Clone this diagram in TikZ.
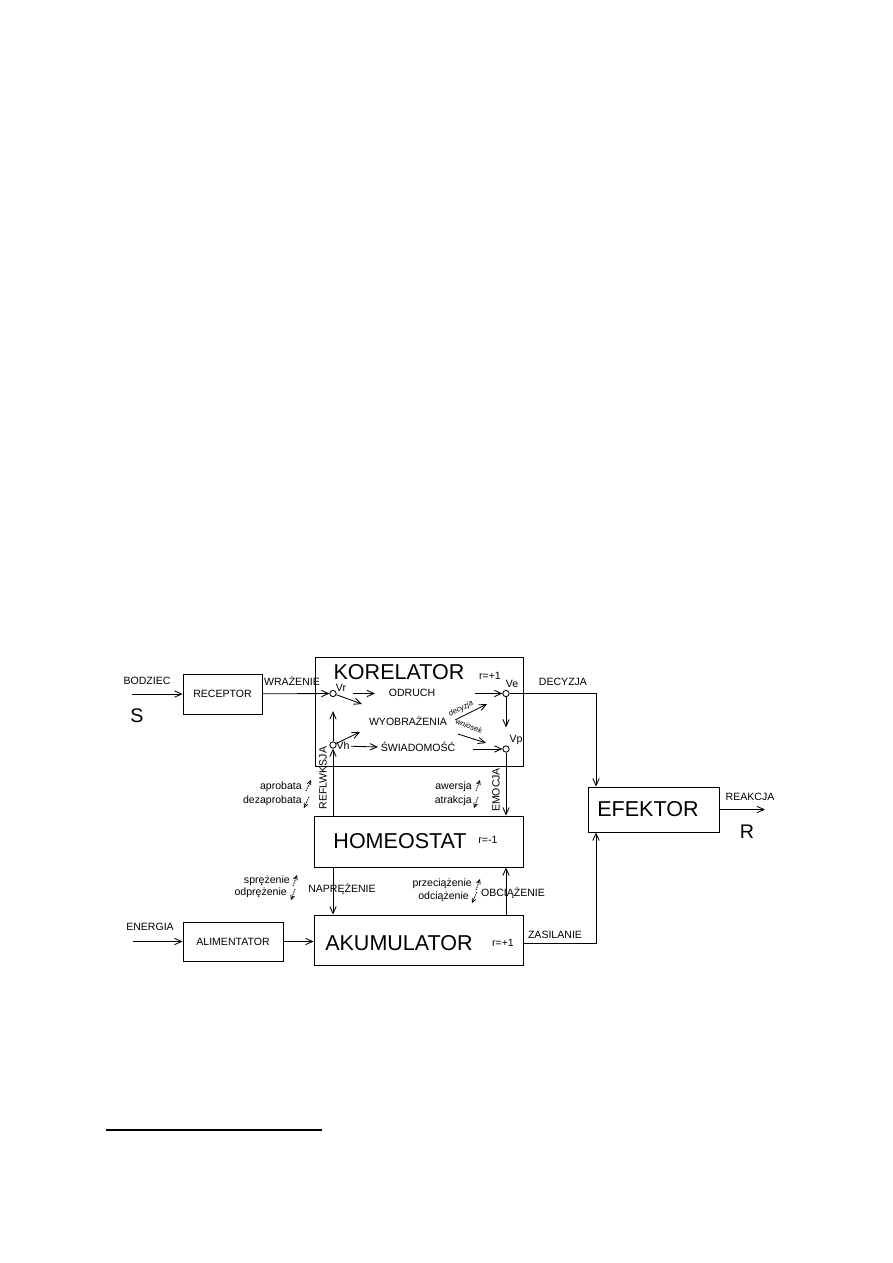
\documentclass[tikz,border=0pt]{standalone}
\usepackage{fontspec}
\setmainfont{Liberation Sans}
\usetikzlibrary{positioning,arrows.meta}
\tikzset{
  blk/.style={draw, line width=0.6pt, inner sep=0pt},
  big/.style={font=\fontsize{15.3}{17}\selectfont, inner sep=0pt},
  sym/.style={font=\fontsize{14}{16}\selectfont, inner sep=0pt},
  lbl/.style={font=\fontsize{7.5}{9}\selectfont, inner sep=0pt},
  tinylbl/.style={font=\itshape\fontsize{5.5}{6}\selectfont, inner sep=0pt},
  sum/.style={circle, draw, line width=0.6pt, minimum size=4.5pt, inner sep=0pt, fill=white},
  sig/.style={draw, line width=0.6pt, -{Straight Barb[length=5pt,width=4.5pt]}},
  pm/.style={draw, line width=0.6pt, dash pattern=on 1pt off 0.7pt, -{Straight Barb[length=2.8pt,width=2.8pt]}},
}
\begin{document}
\begin{tikzpicture}[x=0.025cm, y=-0.025cm]
  \useasboundingbox (0,0) rectangle (893,1263);
  % blocks
  \node[blk, lbl, minimum width=1.975cm, minimum height=1cm] (rec) at (222.5,694) {RECEPTOR};
  \node[blk, minimum width=5.2cm, minimum height=2.725cm] (kor) at (419,711.5) {};
  \node[blk, minimum width=5.225cm, minimum height=1.275cm] (hom) at (418.5,841.5) {};
  \node[blk, minimum width=5.225cm, minimum height=1.25cm] (aku) at (418.5,940) {};
  \node[blk, lbl, minimum width=2.5cm, minimum height=0.975cm] (ali) at (233,941.5) {ALIMENTATOR};
  \node[blk, minimum width=3.275cm, minimum height=1.125cm] (efe) at (653.5,809.5) {};
  \node[big] (kort) at (399,672) {KORELATOR};
  \node[big] (homt) at (400,841) {HOMEOSTAT};
  \node[big] (akut) at (399,943) {AKUMULATOR};
  \node[big] (efet) at (648,809) {EFEKTOR};
  \node[lbl] (kr) at (490,676) {r=+1};
  \node[lbl] (hr) at (488,840) {r=-1};
  \node[lbl] (ar) at (503,943) {r=+1};
  % summing points
  \node[sum] (vr) at (333,693.5) {};
  \node[sum] (vh) at (333,745) {};
  \node[sum] (ve) at (506,693.5) {};
  \node[sum] (vp) at (506,749) {};
  \node[lbl] (vrl) at (341,688) {Vr};
  \node[lbl] (vhl) at (343,746) {Vh};
  \node[lbl] (vel) at (512,684) {Ve};
  \node[lbl] (vpl) at (516,740) {Vp};
  \node[lbl] (odr) at (412,693) {ODRUCH};
  \node[lbl] (wyo) at (408,721) {WYOBRAŻENIA};
  \node[lbl] (swi) at (418,747) {ŚWIADOMOŚĆ};
  \node[tinylbl, rotate=27] (dcz) at (461,709) {decyzja};
  \node[tinylbl, rotate=-22] (wns) at (469,726) {wniosek};
  % free ends
  \coordinate (bin) at (132,694);
  \coordinate (oa) at (375,693.5);
  \coordinate (wa) at (362,704);
  \coordinate (wb) at (360,732);
  \coordinate (sa) at (378,747);
  \coordinate (va) at (475,693.5);
  \coordinate (da) at (455,720);
  \coordinate (db) at (487,704);
  \coordinate (na) at (458,734);
  \coordinate (nb) at (486,743);
  \coordinate (vpa) at (473,749);
  \coordinate (dk) at (596,693.5);
  \coordinate (zk) at (596,943);
  \coordinate (ein) at (133,941.5);
  \coordinate (rout) at (765,809.5);
  % signals
  \draw[sig] (bin) -- (rec);
  \draw[sig] (rec) -- (vr);
  \draw[sig, shorten <=0.4cm] (vr) -- (oa);
  \draw[sig] (vr) -- (wa);
  \draw[sig, shorten >=0.35cm] (vh) -- (vr);
  \draw[sig] (vh) -- (wb);
  \draw[sig, shorten <=1pt] (vhl) -- (sa);
  \draw[sig] (va) -- (ve);
  \draw[sig] (da) -- (db);
  \draw[sig] (na) -- (nb);
  \draw[sig] (vpa) -- (vp);
  \draw[sig, shorten >=0.45cm] (ve) -- (vp);
  \draw[sig] (ve) -- (dk) -- (dk |- efe.north);
  \draw[sig] (vh |- hom.north) -- (vh);
  \draw[sig] (vp) -- (vp |- hom.north);
  \draw[sig] (hom.south -| vh) -- (aku.north -| vh);
  \draw[sig] (aku.north -| vp) -- (hom.south -| vp);
  \draw[sig] (ein) -- (ali);
  \draw[sig] (ali.east) -- (ali.east -| aku.west);
  \draw[sig] (aku.east |- zk) -- (zk) -- (zk |- efe.south);
  \draw[sig] (efe.east) -- (rout);
  % signal names
  \node[lbl] (bod) at (147,681) {BODZIEC};
  \node[sym] (s) at (137,716) {S};
  \node[lbl] (wra) at (292,681) {WRAŻENIE};
  \node[lbl] (dec) at (563,682) {DECYZJA};
  \node[lbl] (rea) at (750,797) {REAKCJA};
  \node[sym] (r) at (747,832) {R};
  \node[lbl] (zas) at (555,935) {ZASILANIE};
  \node[lbl] (ene) at (150,927) {ENERGIA};
  \node[lbl, rotate=90] (ref) at (323,778) {REFLWKSJA};
  \node[lbl, rotate=90] (emo) at (496,790) {EMOCJA};
  \node[lbl] (nap) at (342,889) {NAPRĘŻENIE};
  \node[lbl] (obc) at (513,893) {OBCIĄŻENIE};
  \node[lbl, anchor=east] (apr) at (302,787) {aprobata};
  \node[lbl, anchor=east] (dez) at (302,801) {dezaprobata};
  \node[lbl, anchor=east] (awe) at (472,787) {awersja};
  \node[lbl, anchor=east] (atr) at (472,801) {atrakcja};
  \node[lbl, anchor=east] (spr) at (290,881) {sprężenie};
  \node[lbl, anchor=east] (odp) at (287,893) {odprężenie};
  \node[lbl, anchor=east] (prz) at (472,884) {przeciążenie};
  \node[lbl, anchor=east] (odc) at (469,897) {odciążenie};
  % small up/down marks
  \draw[pm] (306,791) -- (311,780); \draw[pm] (309,797) -- (304,808);
  \draw[pm] (476,791) -- (480,780); \draw[pm] (478,797) -- (474,808);
  \draw[pm] (293,886) -- (297,875); \draw[pm] (295,889) -- (291,900);
  \draw[pm] (476,890) -- (480,879); \draw[pm] (477,892) -- (472,903);
  % footnote rule
  \draw[line width=0.8pt] (106,1130) -- (322,1130);
\end{tikzpicture}
\end{document}
